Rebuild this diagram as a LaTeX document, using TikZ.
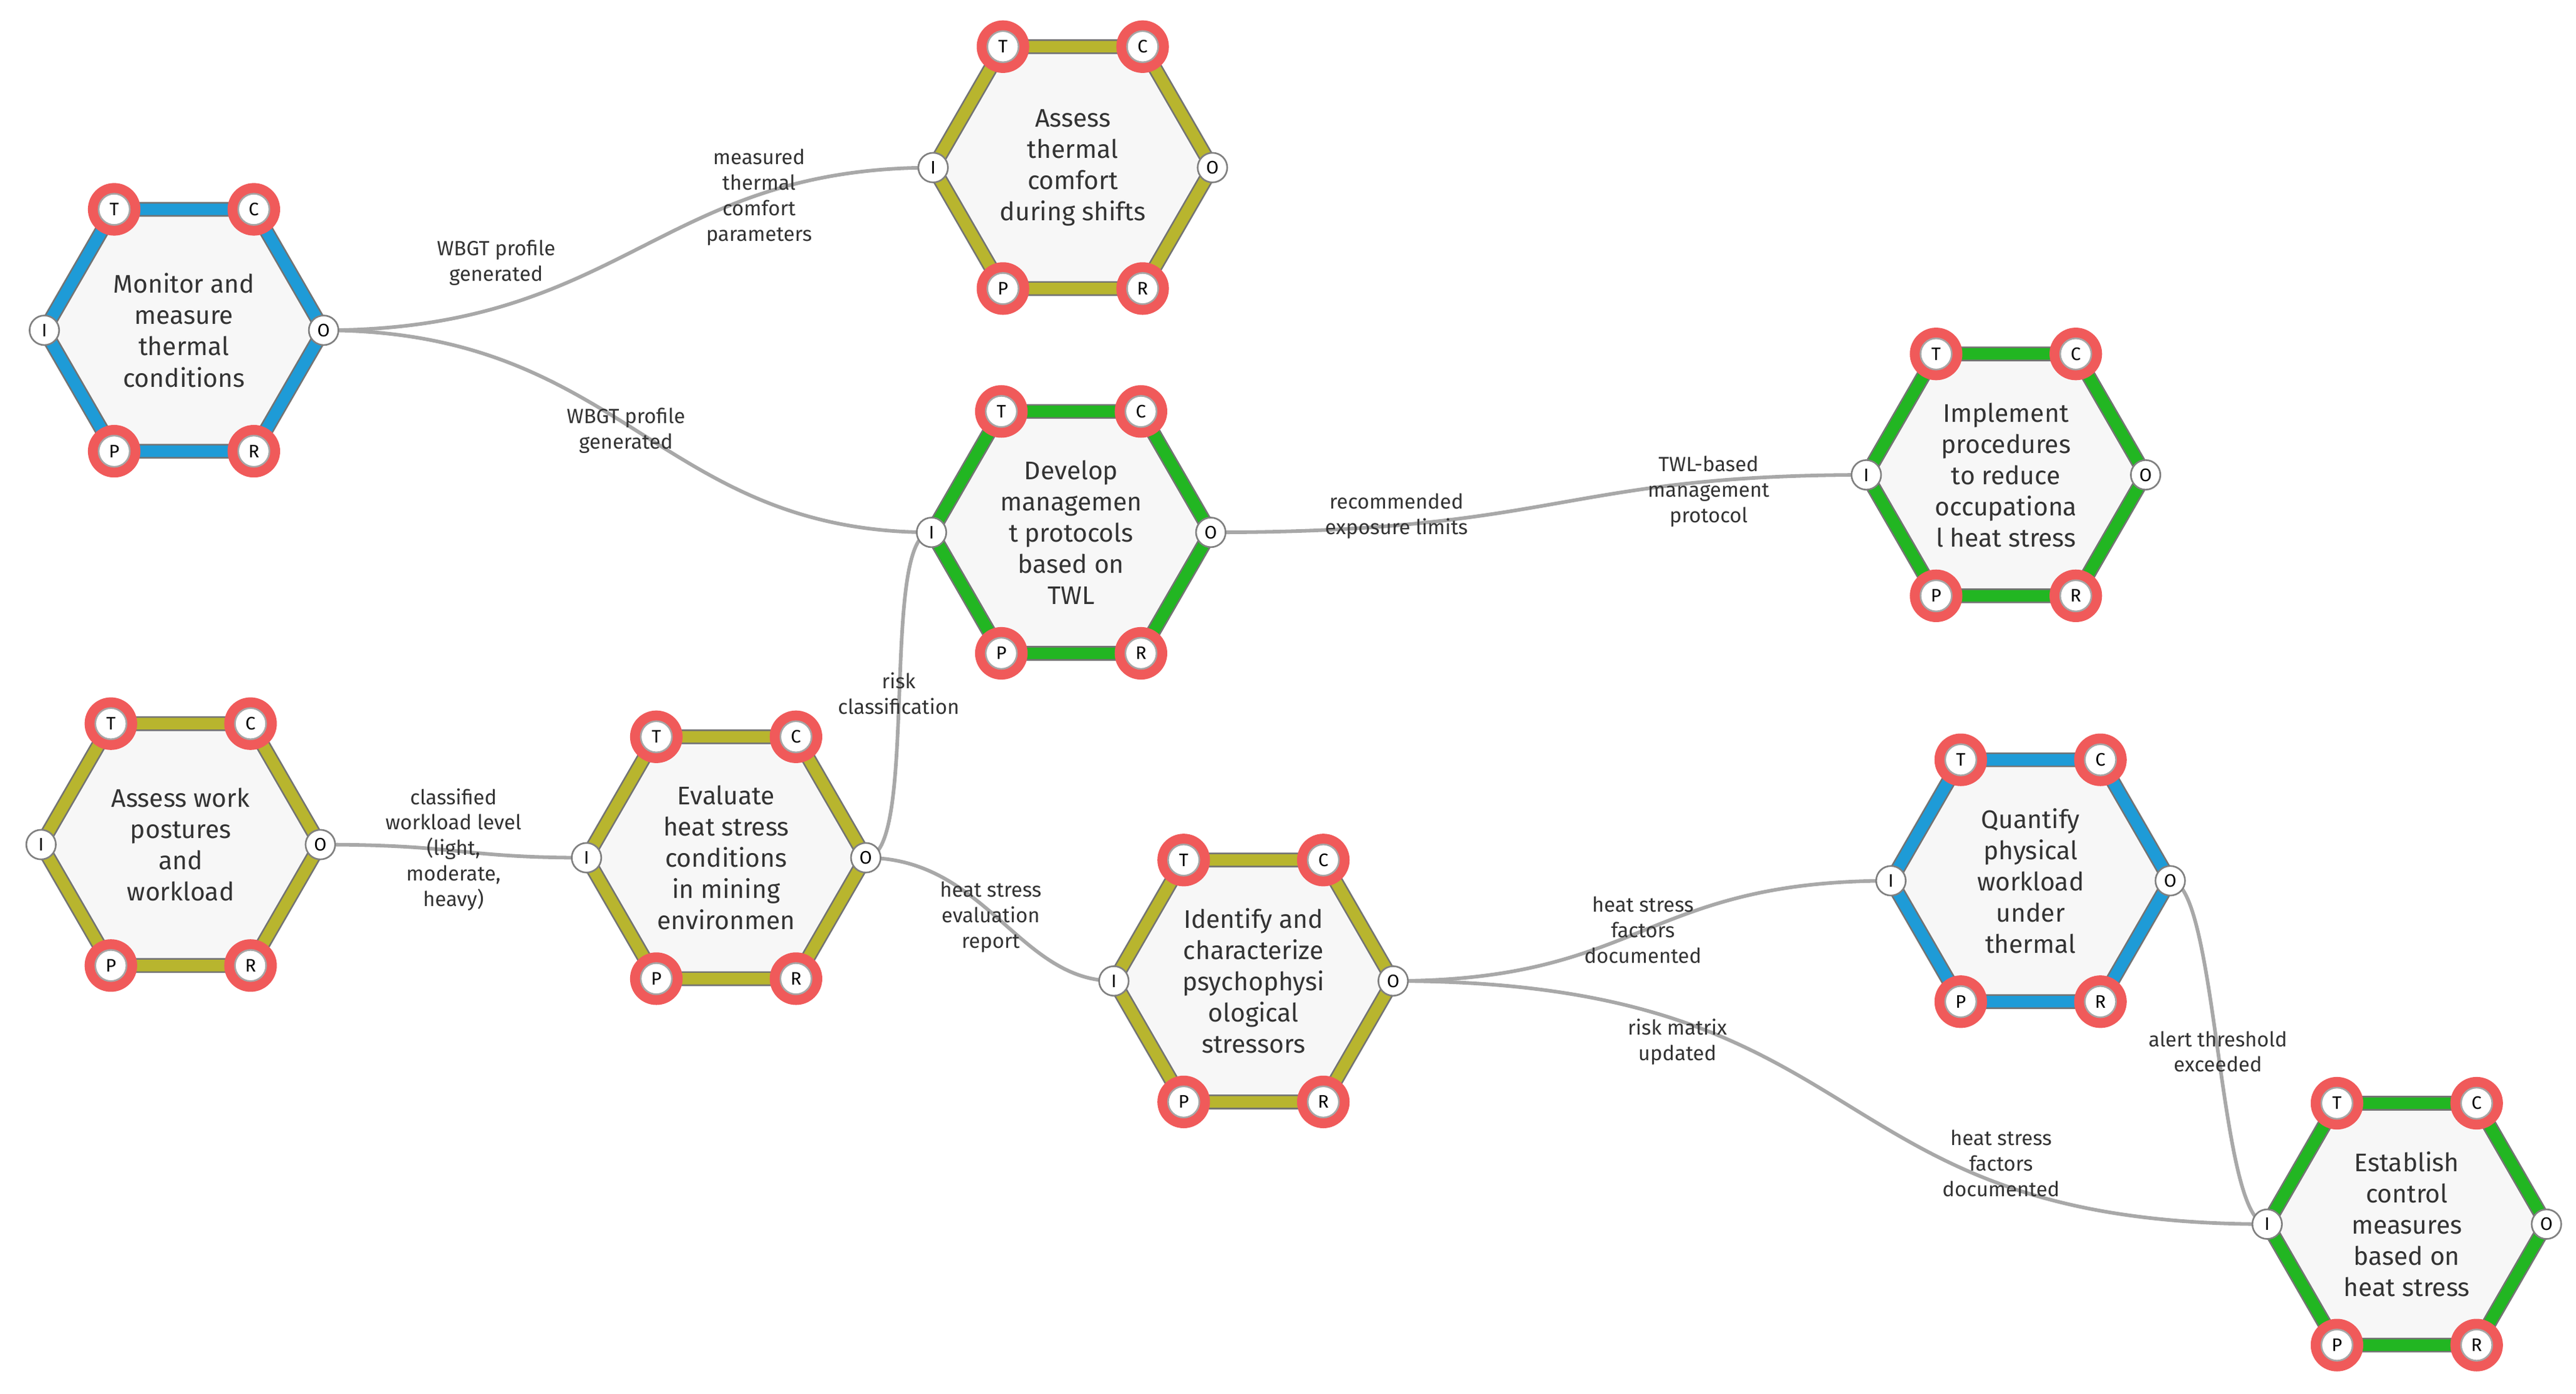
\documentclass[tikz,border=0pt]{standalone}
\usepackage{fontspec}
\setmainfont{Fira Sans}
\definecolor{hblue}{HTML}{1E9BD7}
\definecolor{holive}{HTML}{B8B52E}
\definecolor{hgreen}{HTML}{22B622}
\definecolor{hred}{HTML}{F05A5A}
\definecolor{edge}{HTML}{A8A8A8}
\tikzset{
  htext/.style={align=center,font=\fontsize{15.5}{19}\selectfont,text=black!80},
  lbl/.style={align=center,font=\fontsize{12.5}{15.5}\selectfont,text=black!80},
  conn/.style={draw=edge,line width=2.2pt},
  port/.style={circle,draw=gray,fill=white,line width=1pt,inner sep=0pt,minimum size=18pt,font=\fontsize{11}{11}\selectfont},
}
\newcommand\hx[5]{%
  \begin{scope}[shift={(#2,#3)}]
  \draw[line width=9pt,draw=black!55,fill=black!3] (-85,0)--(-42.5,-73.6)--(42.5,-73.6)--(85,0)--(42.5,73.6)--(-42.5,73.6)--cycle;
  \draw[line width=7pt,draw=#4] (-85,0)--(-42.5,-73.6)--(42.5,-73.6)--(85,0)--(42.5,73.6)--(-42.5,73.6)--cycle;
  \node[htext] (#1) at (0,0) {#5};
  \coordinate (#1-I) at (-85,0); \coordinate (#1-O) at (85,0);
  \foreach \l/\x/\y in {T/-42.5/-73.6,C/42.5/-73.6,P/-42.5/73.6,R/42.5/73.6}{
    \fill[hred] (\x,\y) circle (16);
    \node[port,draw=gray!70,minimum size=19pt] at (\x,\y) {\l};}
  \end{scope}}
\newcommand\ports[1]{%
  \node[port] at (#1-I) {I};
  \node[port] at (#1-O) {O};}
\begin{document}
\begin{tikzpicture}[x=1pt,y=-1pt]
\useasboundingbox[fill=white] (0,0) rectangle (1568,848);
\coordinate (mon-O) at (197,201);
\coordinate (ath-I) at (568,102);
\coordinate (dev-I) at (567,324); \coordinate (dev-O) at (737,324);
\coordinate (imp-I) at (1136,289);
\coordinate (awp-O) at (195,514);
\coordinate (eva-I) at (357,522); \coordinate (eva-O) at (527,522);
\coordinate (idf-I) at (678,597); \coordinate (idf-O) at (848,597);
\coordinate (qua-I) at (1151,536); \coordinate (qua-O) at (1321,536);
\coordinate (est-I) at (1380,745);
\draw[conn] (mon-O) .. controls (380,201) and (400,102) .. (ath-I);
\draw[conn] (mon-O) .. controls (380,201) and (400,324) .. (dev-I);
\draw[conn] (dev-O) .. controls (950,324) and (950,289) .. (imp-I);
\draw[conn] (awp-O) .. controls (280,514) and (280,522) .. (eva-I);
\draw[conn] (eva-O) .. controls (560,522) and (535,324) .. (dev-I);
\draw[conn] (eva-O) .. controls (600,522) and (620,597) .. (idf-I);
\draw[conn] (idf-O) .. controls (1000,597) and (1000,536) .. (qua-I);
\draw[conn] (idf-O) .. controls (1150,597) and (1100,745) .. (est-I);
\draw[conn] (qua-O) .. controls (1350,536) and (1350,745) .. (est-I);
\node[lbl] (l1) at (302,160) {WBGT profile\\generated};
\node[lbl] (l2) at (462,120) {measured\\thermal\\comfort\\parameters};
\node[lbl] (l3) at (381,262) {WBGT profile\\generated};
\node[lbl] (l4) at (850,314) {recommended\\exposure limits};
\node[lbl] (l5) at (1040,299) {TWL-based\\management\\protocol};
\node[lbl] (l6) at (276,517) {classified\\workload level\\(light,\\moderate,\\heavy)};
\node[lbl] (l7) at (547,422) {risk\\classification};
\node[lbl] (l8) at (603,558) {heat stress\\evaluation\\report};
\node[lbl] (l9) at (1000,566) {heat stress\\factors\\documented};
\node[lbl] (l10) at (1021,634) {risk matrix\\updated};
\node[lbl] (l11) at (1218,708) {heat stress\\factors\\documented};
\node[lbl] (l12) at (1350,640) {alert threshold\\exceeded};
\hx{mon}{112}{201}{hblue}{Monitor and\\measure\\thermal\\conditions}
\hx{ath}{653}{102}{holive}{Assess\\thermal\\comfort\\during shifts}
\hx{dev}{652}{324}{hgreen}{Develop\\managemen\\t protocols\\based on\\TWL}
\hx{imp}{1221}{289}{hgreen}{Implement\\procedures\\to reduce\\occupationa\\l heat stress}
\hx{awp}{110}{514}{holive}{Assess work\\postures\\and\\workload}
\hx{eva}{442}{522}{holive}{Evaluate\\heat stress\\conditions\\in mining\\environmen}
\hx{idf}{763}{597}{holive}{Identify and\\characterize\\psychophysi\\ological\\stressors}
\hx{qua}{1236}{536}{hblue}{Quantify\\physical\\workload\\under\\thermal}
\hx{est}{1465}{745}{hgreen}{Establish\\control\\measures\\based on\\heat stress}
\foreach \n in {mon,ath,dev,imp,awp,eva,idf,qua,est}{\ports{\n}}
\end{tikzpicture}
\end{document}
